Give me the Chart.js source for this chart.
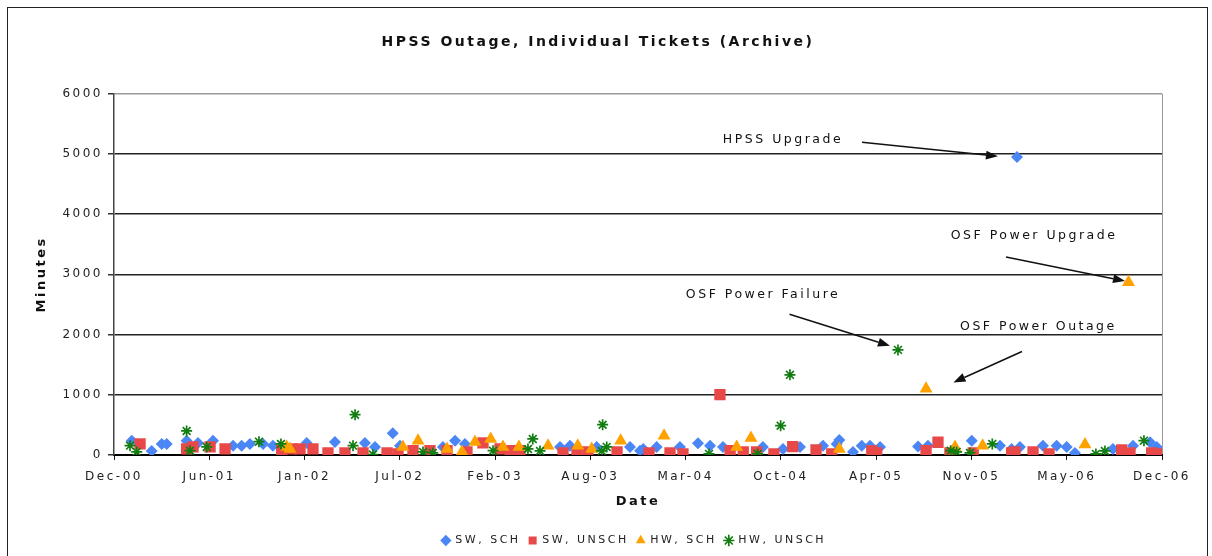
<!DOCTYPE html>
<html>
<head>
<meta charset="utf-8">
<script src="https://cdn.jsdelivr.net/npm/chart.js@4.4.1/dist/chart.umd.min.js"></script>
<style>
  body { margin: 0; background: #fff; }
  #wrap { position: relative; width: 1212px; height: 556px; overflow: hidden; }
  #frame { position: absolute; left: 7px; top: 7px; width: 1199px; height: 600px; border: 1px solid #222; }
  #chart { position: absolute; left: 0; top: 0; }
</style>
</head>
<body>
<div id="wrap">
  <div id="frame"></div>
  <canvas id="chart" width="1212" height="556"></canvas>
</div>
<script>
// x values are months since Dec-00, y values are minutes
const tickLabels = ["Dec-00", "Jun-01", "Jan-02", "Jul-02", "Feb-03", "Aug-03",
  "Mar-04", "Oct-04", "Apr-05", "Nov-05", "May-06", "Dec-06"];
const axisMonths = 72;

const swSchMonth = [1.22, 2.59, 3.28, 3.62, 4.99, 5.77, 6.80, 8.18, 8.77, 9.34, 10.24, 10.92,
  13.24, 15.18, 17.24, 17.93, 19.15, 19.65, 22.60, 23.43, 24.11, 30.64, 31.33, 33.16, 35.45,
  36.14, 36.36, 37.28, 38.88, 40.12, 40.95, 41.84, 44.58, 45.96, 47.13, 48.71, 49.65, 49.83, 50.77,
  51.37, 51.94, 52.63, 55.24, 55.92, 58.93, 60.87, 61.67, 62.04, 62.24, 63.82, 64.76, 65.45,
  66.02, 68.63, 70.01, 71.18, 71.64, 71.9];
const swSchMin = [237, 66, 182, 182, 237, 199, 237, 154, 154, 182, 182, 154,
  199, 215, 199, 133, 360, 154, 133, 237, 182, 133, 154, 133, 133,
  71, 99, 133, 133, 194, 154, 133, 133, 99, 133, 154, 182, 249, 50,
  154, 154, 133, 138, 154, 237, 154, 99, 4950, 133, 154, 154, 133,
  33, 99, 154, 210, 133, 50];

const swUnschMonth = [1.79, 4.99, 5.43, 6.60, 7.63, 11.52, 12.21, 12.78, 13.67, 14.70, 15.87,
  17.11, 18.76, 19.51, 20.54, 21.71, 22.88, 24.25, 25.35, 26.52, 27.21, 27.89, 30.85, 31.81,
  32.56, 34.56, 36.76, 38.20, 39.09, 41.63, 42.33, 43.23, 44.15, 45.34, 46.63, 48.23, 49.31,
  52.06, 52.40, 55.79, 56.61, 57.43, 59.03, 61.67, 61.90, 63.14, 64.24, 69.23, 69.80, 71.29, 71.64];
const swUnschMin = [182, 99, 133, 133, 99, 71, 99, 99, 99, 33, 33,
  33, 33, 17, 71, 71, 71, 50, 199, 99, 71, 71, 33, 50,
  50, 50, 33, 33, 17, 1000, 71, 50, 50, 17, 138, 83, 17,
  66, 33, 71, 210, 33, 33, 33, 50, 50, 17, 83, 33, 33, 17];

const hwSchMonth = [11.86, 12.09, 19.85, 20.89, 22.88, 23.91, 24.80, 25.88, 26.72, 27.82, 29.82,
  31.86, 32.82, 34.81, 37.79, 42.78, 43.76, 49.83, 55.79, 57.78, 59.68, 66.71, 69.70];
const hwSchMin = [133, 99, 133, 237, 99, 50, 215, 265, 133, 133, 154,
  154, 99, 237, 320, 133, 282, 99, 1100, 133, 154, 171, 2870];

const hwUnschMonth = [1.10, 1.56, 4.99, 5.22, 6.37, 9.96, 11.47, 16.42, 16.56, 17.79, 21.23,
  21.90, 26.04, 28.44, 28.77, 29.27, 33.51, 33.57, 33.85, 40.88, 44.22, 45.80, 46.44, 53.86,
  57.48, 57.89, 58.81, 60.34, 67.46, 68.08, 70.76];
const hwUnschMin = [154, 50, 398, 71, 133, 220, 182, 154, 668, 5, 50,
  33, 71, 99, 265, 66, 66, 502, 133, 17, 17, 486, 1330, 1745,
  71, 50, 33, 182, 17, 66, 237];

// callouts: label centre, arrow start, arrow tip (all in data units)
const callouts = [
  { text: "HPSS Upgrade", tx: 45.96, ty: 5238, fx: 51.39, fy: 5193, ax: 60.73, ay: 4961 },
  { text: "OSF Power Upgrade", tx: 63.21, ty: 3646, fx: 61.28, fy: 3287, ax: 69.46, ay: 2889 },
  { text: "OSF Power Failure", tx: 44.59, ty: 2669, fx: 46.41, fy: 2337, ax: 53.31, ay: 1812 },
  { text: "OSF Power Outage", tx: 63.51, ty: 2127, fx: 62.38, fy: 1719, ax: 57.67, ay: 1205 },
];

const pairs = (xs, ys) => xs.map((x, i) => ({ x, y: ys[i] }));

Chart.defaults.font.family = '"DejaVu Sans", sans-serif';
Chart.defaults.color = "#222";

const spacingPlugin = {
  id: "spacing",
  beforeUpdate(chart) { chart.ctx.letterSpacing = "2.5px"; },
  beforeLayout(chart) { chart.ctx.letterSpacing = "2.5px"; },
  afterLayout(chart) {
    // legend sits a little right of the chart centre in the original
    chart.legend.left += 36;
    chart.legend.right += 36;
  },
  beforeDraw(chart) { chart.ctx.letterSpacing = "2.5px"; },
};

const calloutPlugin = {
  id: "callouts",
  afterDatasetsDraw(chart) {
    const { ctx, scales } = chart;
    const xs = scales.x, ys = scales.y;
    ctx.save();
    ctx.font = '12.5px "DejaVu Sans"';
    ctx.letterSpacing = "2.5px";
    ctx.fillStyle = "#111";
    ctx.strokeStyle = "#111";
    ctx.textAlign = "center";
    ctx.textBaseline = "middle";
    callouts.forEach((c) => {
      ctx.fillText(c.text, xs.getPixelForValue(c.tx), ys.getPixelForValue(c.ty));
      const x1 = xs.getPixelForValue(c.fx), y1 = ys.getPixelForValue(c.fy);
      const x2 = xs.getPixelForValue(c.ax), y2 = ys.getPixelForValue(c.ay);
      const ang = Math.atan2(y2 - y1, x2 - x1);
      const head = 12, half = 4.5;
      const bx = x2 - head * Math.cos(ang), by = y2 - head * Math.sin(ang);
      ctx.lineWidth = 1.5;
      ctx.beginPath();
      ctx.moveTo(x1, y1);
      ctx.lineTo(bx, by);
      ctx.stroke();
      ctx.beginPath();
      ctx.moveTo(x2, y2);
      ctx.lineTo(bx + half * Math.sin(ang), by - half * Math.cos(ang));
      ctx.lineTo(bx - half * Math.sin(ang), by + half * Math.cos(ang));
      ctx.closePath();
      ctx.fill();
    });
    ctx.restore();
  },
};

new Chart(document.getElementById("chart"), {
  type: "scatter",
  data: {
    datasets: [
      {
        label: "SW, SCH", data: pairs(swSchMonth, swSchMin), order: 4,
        pointStyle: "rectRot", pointRadius: 6, pointHoverRadius: 6,
        backgroundColor: "#4a86f5", borderColor: "#4a86f5", borderWidth: 0,
      },
      {
        label: "SW, UNSCH", data: pairs(swUnschMonth, swUnschMin), order: 3,
        pointStyle: "rect", pointRadius: 8, pointHoverRadius: 8,
        backgroundColor: "#e84848", borderColor: "#e84848", borderWidth: 0,
      },
      {
        label: "HW, SCH", data: pairs(hwSchMonth, hwSchMin), order: 2,
        pointStyle: "triangle", pointRadius: 7.5, pointHoverRadius: 7.5,
        backgroundColor: "#ffa200", borderColor: "#ffa200", borderWidth: 0,
      },
      {
        label: "HW, UNSCH", data: pairs(hwUnschMonth, hwUnschMin), order: 1,
        pointStyle: "star", pointRadius: 5.5, pointHoverRadius: 5.5,
        backgroundColor: "#117d11", borderColor: "#117d11", borderWidth: 1.7,
      },
    ],
  },
  options: {
    responsive: false,
    animation: false,
    devicePixelRatio: 1,
    layout: { padding: { left: 34, right: 50, top: 0, bottom: 0 } },
    plugins: {
      title: {
        display: true,
        text: "HPSS Outage, Individual Tickets (Archive)",
        color: "#111",
        font: { size: 14, weight: "bold" },
        padding: { top: 34, bottom: 43 },
      },
      legend: {
        position: "bottom",
        labels: {
          usePointStyle: true,
          boxWidth: 8,
          boxHeight: 8,
          padding: 8,
          color: "#222",
          font: { size: 11 },
          sort: (a, b) => a.datasetIndex - b.datasetIndex,
        },
      },
      tooltip: { enabled: false },
    },
    scales: {
      x: {
        type: "linear",
        min: 0,
        max: axisMonths,
        afterBuildTicks: (scale) => {
          scale.ticks = tickLabels.map((_, i) => ({ value: (i * axisMonths) / (tickLabels.length - 1) }));
        },
        ticks: {
          autoSkip: false,
          maxRotation: 0,
          padding: 11,
          font: { size: 12, lineHeight: 1 },
          callback: (value, index) => tickLabels[index],
        },
        grid: {
          drawOnChartArea: true,
          color: (c) => (c.index === tickLabels.length - 1 ? "#999" : "rgba(0,0,0,0)"),
          tickColor: "#111",
          tickLength: 5,
        },
        border: { color: "#000", width: 2 },
        title: {
          display: true,
          text: "Date",
          color: "#111",
          font: { size: 13, weight: "bold" },
          padding: { top: 0, bottom: 17.5 },
        },
      },
      y: {
        min: 0,
        max: 6000,
        afterFit: (scale) => { scale.width = 80; },
        ticks: { stepSize: 1000, padding: 5, font: { size: 12 }, callback: (v) => String(v) },
        grid: {
          color: (c) => (c.tick && c.tick.value === 6000 ? "#999" : "#222"),
          lineWidth: 1.5,
          tickColor: "#333",
          tickLength: 6,
        },
        border: { color: "#444", width: 1.5 },
        title: {
          display: true,
          text: "Minutes",
          color: "#111",
          font: { size: 13, weight: "bold" },
          padding: 0,
        },
      },
    },
  },
  plugins: [spacingPlugin, calloutPlugin],
});
</script>
</body>
</html>
